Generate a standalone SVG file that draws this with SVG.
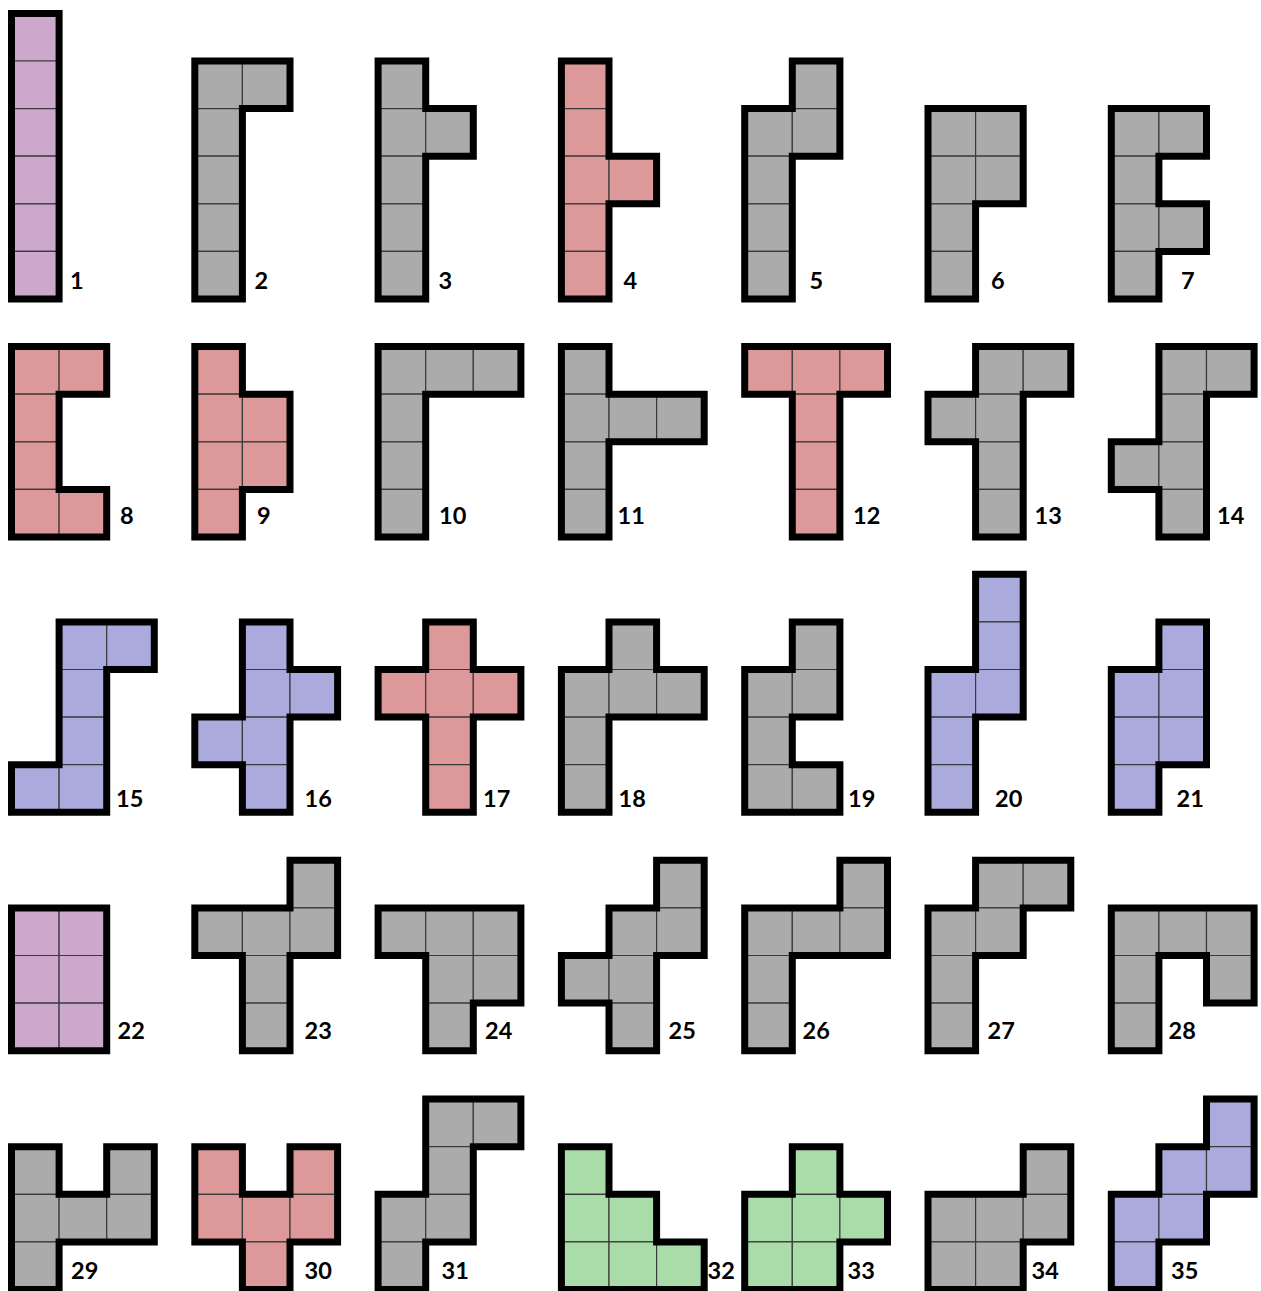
<svg xmlns="http://www.w3.org/2000/svg" xmlns:xlink="http://www.w3.org/1999/xlink" width="1261" height="1291" viewBox="0 0 1261 1291">
<style>
.p { stroke:#3a3a3a; stroke-width:1.2px; }
.o { fill:none; stroke:#000; stroke-width:7px; stroke-linejoin:miter; vector-effect:non-scaling-stroke; }
.gy { fill:#ABABAB; } .rd { fill:#DD9999; } .bl { fill:#AAAADD; } .pu { fill:#CCA8CC; } .gn { fill:#AADCAA; }
.lb { font-family:Lato, "Liberation Sans", sans-serif; font-weight:700; font-size:23.5px; fill:#000; }
</style>
<defs><rect id="u" width="1" height="1" vector-effect="non-scaling-stroke"/></defs>
<rect width="1261" height="1291" fill="#fff"/>
<g id="connectors"/>
<!-- Row 1 -->
<g id="piece-1"><g class="p pu" transform="translate(11.5,13.4) scale(47.6)"><use href="#u" x="0" y="0"/><use href="#u" x="0" y="1"/><use href="#u" x="0" y="2"/><use href="#u" x="0" y="3"/><use href="#u" x="0" y="4"/><use href="#u" x="0" y="5"/><path class="o" d="M0 0H1V6H0Z"/></g><text class="lb" x="70" y="289">1</text></g>
<g id="piece-2"><g class="p gy" transform="translate(194.8,61) scale(47.6)"><use href="#u" x="0" y="0"/><use href="#u" x="1" y="0"/><use href="#u" x="0" y="1"/><use href="#u" x="0" y="2"/><use href="#u" x="0" y="3"/><use href="#u" x="0" y="4"/><path class="o" d="M0 0H2V1H1V5H0Z"/></g><text class="lb" x="254.5" y="289">2</text></g>
<g id="piece-3"><g class="p gy" transform="translate(378.1,61) scale(47.6)"><use href="#u" x="0" y="0"/><use href="#u" x="0" y="1"/><use href="#u" x="1" y="1"/><use href="#u" x="0" y="2"/><use href="#u" x="0" y="3"/><use href="#u" x="0" y="4"/><path class="o" d="M0 0H1V1H2V2H1V5H0Z"/></g><text class="lb" x="438.5" y="289">3</text></g>
<g id="piece-4"><g class="p rd" transform="translate(561.4,61) scale(47.6)"><use href="#u" x="0" y="0"/><use href="#u" x="0" y="1"/><use href="#u" x="0" y="2"/><use href="#u" x="1" y="2"/><use href="#u" x="0" y="3"/><use href="#u" x="0" y="4"/><path class="o" d="M0 0H1V2H2V3H1V5H0Z"/></g><text class="lb" x="623.5" y="289">4</text></g>
<g id="piece-5"><g class="p gy" transform="translate(744.7,61) scale(47.6)"><use href="#u" x="1" y="0"/><use href="#u" x="0" y="1"/><use href="#u" x="1" y="1"/><use href="#u" x="0" y="2"/><use href="#u" x="0" y="3"/><use href="#u" x="0" y="4"/><path class="o" d="M1 0H2V2H1V5H0V1H1Z"/></g><text class="lb" x="809.5" y="289">5</text></g>
<g id="piece-6"><g class="p gy" transform="translate(928,108.6) scale(47.6)"><use href="#u" x="0" y="0"/><use href="#u" x="1" y="0"/><use href="#u" x="0" y="1"/><use href="#u" x="1" y="1"/><use href="#u" x="0" y="2"/><use href="#u" x="0" y="3"/><path class="o" d="M0 0H2V2H1V4H0Z"/></g><text class="lb" x="991" y="289">6</text></g>
<g id="piece-7"><g class="p gy" transform="translate(1111.3,108.6) scale(47.6)"><use href="#u" x="0" y="0"/><use href="#u" x="1" y="0"/><use href="#u" x="0" y="1"/><use href="#u" x="0" y="2"/><use href="#u" x="1" y="2"/><use href="#u" x="0" y="3"/><path class="o" d="M0 0H2V1H1V2H2V3H1V4H0Z"/></g><text class="lb" x="1181" y="289">7</text></g>
<!-- Row 2 -->
<g id="piece-8"><g class="p rd" transform="translate(11.5,346.6) scale(47.6)"><use href="#u" x="0" y="0"/><use href="#u" x="1" y="0"/><use href="#u" x="0" y="1"/><use href="#u" x="0" y="2"/><use href="#u" x="0" y="3"/><use href="#u" x="1" y="3"/><path class="o" d="M0 0H2V1H1V3H2V4H0Z"/></g><text class="lb" x="120" y="523.5">8</text></g>
<g id="piece-9"><g class="p rd" transform="translate(194.8,346.6) scale(47.6)"><use href="#u" x="0" y="0"/><use href="#u" x="0" y="1"/><use href="#u" x="1" y="1"/><use href="#u" x="0" y="2"/><use href="#u" x="1" y="2"/><use href="#u" x="0" y="3"/><path class="o" d="M0 0H1V1H2V3H1V4H0Z"/></g><text class="lb" x="257" y="523.5">9</text></g>
<g id="piece-10"><g class="p gy" transform="translate(378.1,346.6) scale(47.6)"><use href="#u" x="0" y="0"/><use href="#u" x="1" y="0"/><use href="#u" x="2" y="0"/><use href="#u" x="0" y="1"/><use href="#u" x="0" y="2"/><use href="#u" x="0" y="3"/><path class="o" d="M0 0H3V1H1V4H0Z"/></g><text class="lb" x="439" y="523.5">10</text></g>
<g id="piece-11"><g class="p gy" transform="translate(561.4,346.6) scale(47.6)"><use href="#u" x="0" y="0"/><use href="#u" x="0" y="1"/><use href="#u" x="1" y="1"/><use href="#u" x="2" y="1"/><use href="#u" x="0" y="2"/><use href="#u" x="0" y="3"/><path class="o" d="M0 0H1V1H3V2H1V4H0Z"/></g><text class="lb" x="617.5" y="523.5">11</text></g>
<g id="piece-12"><g class="p rd" transform="translate(744.7,346.6) scale(47.6)"><use href="#u" x="0" y="0"/><use href="#u" x="1" y="0"/><use href="#u" x="2" y="0"/><use href="#u" x="1" y="1"/><use href="#u" x="1" y="2"/><use href="#u" x="1" y="3"/><path class="o" d="M0 0H3V1H2V4H1V1H0Z"/></g><text class="lb" x="853" y="523.5">12</text></g>
<g id="piece-13"><g class="p gy" transform="translate(928,346.6) scale(47.6)"><use href="#u" x="1" y="0"/><use href="#u" x="2" y="0"/><use href="#u" x="0" y="1"/><use href="#u" x="1" y="1"/><use href="#u" x="1" y="2"/><use href="#u" x="1" y="3"/><path class="o" d="M1 0H3V1H2V4H1V2H0V1H1Z"/></g><text class="lb" x="1034.5" y="523.5">13</text></g>
<g id="piece-14"><g class="p gy" transform="translate(1111.3,346.6) scale(47.6)"><use href="#u" x="1" y="0"/><use href="#u" x="2" y="0"/><use href="#u" x="1" y="1"/><use href="#u" x="0" y="2"/><use href="#u" x="1" y="2"/><use href="#u" x="1" y="3"/><path class="o" d="M1 0H3V1H2V4H1V3H0V2H1Z"/></g><text class="lb" x="1217" y="523.5">14</text></g>
<!-- Row 3 -->
<g id="piece-15"><g class="p bl" transform="translate(11.5,621.9) scale(47.6)"><use href="#u" x="1" y="0"/><use href="#u" x="2" y="0"/><use href="#u" x="1" y="1"/><use href="#u" x="1" y="2"/><use href="#u" x="0" y="3"/><use href="#u" x="1" y="3"/><path class="o" d="M1 0H3V1H2V4H0V3H1Z"/></g><text class="lb" x="116" y="807">15</text></g>
<g id="piece-16"><g class="p bl" transform="translate(194.8,621.9) scale(47.6)"><use href="#u" x="1" y="0"/><use href="#u" x="1" y="1"/><use href="#u" x="2" y="1"/><use href="#u" x="0" y="2"/><use href="#u" x="1" y="2"/><use href="#u" x="1" y="3"/><path class="o" d="M1 0H2V1H3V2H2V4H1V3H0V2H1Z"/></g><text class="lb" x="304.5" y="807">16</text></g>
<g id="piece-17"><g class="p rd" transform="translate(378.1,621.9) scale(47.6)"><use href="#u" x="1" y="0"/><use href="#u" x="0" y="1"/><use href="#u" x="1" y="1"/><use href="#u" x="2" y="1"/><use href="#u" x="1" y="2"/><use href="#u" x="1" y="3"/><path class="o" d="M1 0H2V1H3V2H2V4H1V2H0V1H1Z"/></g><text class="lb" x="483" y="807">17</text></g>
<g id="piece-18"><g class="p gy" transform="translate(561.4,621.9) scale(47.6)"><use href="#u" x="1" y="0"/><use href="#u" x="0" y="1"/><use href="#u" x="1" y="1"/><use href="#u" x="2" y="1"/><use href="#u" x="0" y="2"/><use href="#u" x="0" y="3"/><path class="o" d="M1 0H2V1H3V2H1V4H0V1H1Z"/></g><text class="lb" x="618.5" y="807">18</text></g>
<g id="piece-19"><g class="p gy" transform="translate(744.7,621.9) scale(47.6)"><use href="#u" x="1" y="0"/><use href="#u" x="0" y="1"/><use href="#u" x="1" y="1"/><use href="#u" x="0" y="2"/><use href="#u" x="0" y="3"/><use href="#u" x="1" y="3"/><path class="o" d="M1 0H2V2H1V3H2V4H0V1H1Z"/></g><text class="lb" x="848" y="807">19</text></g>
<g id="piece-20"><g class="p bl" transform="translate(928,574.3) scale(47.6)"><use href="#u" x="1" y="0"/><use href="#u" x="1" y="1"/><use href="#u" x="0" y="2"/><use href="#u" x="1" y="2"/><use href="#u" x="0" y="3"/><use href="#u" x="0" y="4"/><path class="o" d="M1 0H2V3H1V5H0V2H1Z"/></g><text class="lb" x="995" y="807">20</text></g>
<g id="piece-21"><g class="p bl" transform="translate(1111.3,621.9) scale(47.6)"><use href="#u" x="1" y="0"/><use href="#u" x="0" y="1"/><use href="#u" x="1" y="1"/><use href="#u" x="0" y="2"/><use href="#u" x="1" y="2"/><use href="#u" x="0" y="3"/><path class="o" d="M1 0H2V3H1V4H0V1H1Z"/></g><text class="lb" x="1176.5" y="807">21</text></g>
<!-- Row 4 -->
<g id="piece-22"><g class="p pu" transform="translate(11.5,907.9) scale(47.6)"><use href="#u" x="0" y="0"/><use href="#u" x="1" y="0"/><use href="#u" x="0" y="1"/><use href="#u" x="1" y="1"/><use href="#u" x="0" y="2"/><use href="#u" x="1" y="2"/><path class="o" d="M0 0H2V3H0Z"/></g><text class="lb" x="117.5" y="1038.5">22</text></g>
<g id="piece-23"><g class="p gy" transform="translate(194.8,860.3) scale(47.6)"><use href="#u" x="2" y="0"/><use href="#u" x="0" y="1"/><use href="#u" x="1" y="1"/><use href="#u" x="2" y="1"/><use href="#u" x="1" y="2"/><use href="#u" x="1" y="3"/><path class="o" d="M2 0H3V2H2V4H1V2H0V1H2Z"/></g><text class="lb" x="304.5" y="1038.5">23</text></g>
<g id="piece-24"><g class="p gy" transform="translate(378.1,907.9) scale(47.6)"><use href="#u" x="0" y="0"/><use href="#u" x="1" y="0"/><use href="#u" x="2" y="0"/><use href="#u" x="1" y="1"/><use href="#u" x="2" y="1"/><use href="#u" x="1" y="2"/><path class="o" d="M0 0H3V2H2V3H1V1H0Z"/></g><text class="lb" x="485" y="1038.5">24</text></g>
<g id="piece-25"><g class="p gy" transform="translate(561.4,860.3) scale(47.6)"><use href="#u" x="2" y="0"/><use href="#u" x="1" y="1"/><use href="#u" x="2" y="1"/><use href="#u" x="0" y="2"/><use href="#u" x="1" y="2"/><use href="#u" x="1" y="3"/><path class="o" d="M2 0H3V2H2V4H1V3H0V2H1V1H2Z"/></g><text class="lb" x="668.5" y="1038.5">25</text></g>
<g id="piece-26"><g class="p gy" transform="translate(744.7,860.3) scale(47.6)"><use href="#u" x="2" y="0"/><use href="#u" x="0" y="1"/><use href="#u" x="1" y="1"/><use href="#u" x="2" y="1"/><use href="#u" x="0" y="2"/><use href="#u" x="0" y="3"/><path class="o" d="M2 0H3V2H1V4H0V1H2Z"/></g><text class="lb" x="802.5" y="1038.5">26</text></g>
<g id="piece-27"><g class="p gy" transform="translate(928,860.3) scale(47.6)"><use href="#u" x="1" y="0"/><use href="#u" x="2" y="0"/><use href="#u" x="0" y="1"/><use href="#u" x="1" y="1"/><use href="#u" x="0" y="2"/><use href="#u" x="0" y="3"/><path class="o" d="M1 0H3V1H2V2H1V4H0V1H1Z"/></g><text class="lb" x="987.5" y="1038.5">27</text></g>
<g id="piece-28"><g class="p gy" transform="translate(1111.3,907.9) scale(47.6)"><use href="#u" x="0" y="0"/><use href="#u" x="1" y="0"/><use href="#u" x="2" y="0"/><use href="#u" x="0" y="1"/><use href="#u" x="2" y="1"/><use href="#u" x="0" y="2"/><path class="o" d="M0 0H3V2H2V1H1V3H0Z"/></g><text class="lb" x="1168.5" y="1038.5">28</text></g>
<!-- Row 5 -->
<g id="piece-29"><g class="p gy" transform="translate(11.5,1146.7) scale(47.6)"><use href="#u" x="0" y="0"/><use href="#u" x="2" y="0"/><use href="#u" x="0" y="1"/><use href="#u" x="1" y="1"/><use href="#u" x="2" y="1"/><use href="#u" x="0" y="2"/><path class="o" d="M0 0H1V1H2V0H3V2H1V3H0Z"/></g><text class="lb" x="71" y="1278.5">29</text></g>
<g id="piece-30"><g class="p rd" transform="translate(194.8,1146.7) scale(47.6)"><use href="#u" x="0" y="0"/><use href="#u" x="2" y="0"/><use href="#u" x="0" y="1"/><use href="#u" x="1" y="1"/><use href="#u" x="2" y="1"/><use href="#u" x="1" y="2"/><path class="o" d="M0 0H1V1H2V0H3V2H2V3H1V2H0Z"/></g><text class="lb" x="304.5" y="1278.5">30</text></g>
<g id="piece-31"><g class="p gy" transform="translate(378.1,1099.1) scale(47.6)"><use href="#u" x="1" y="0"/><use href="#u" x="2" y="0"/><use href="#u" x="1" y="1"/><use href="#u" x="0" y="2"/><use href="#u" x="1" y="2"/><use href="#u" x="0" y="3"/><path class="o" d="M1 0H3V1H2V3H1V4H0V2H1Z"/></g><text class="lb" x="441.5" y="1278.5">31</text></g>
<g id="piece-32"><g class="p gn" transform="translate(561.4,1146.7) scale(47.6)"><use href="#u" x="0" y="0"/><use href="#u" x="0" y="1"/><use href="#u" x="1" y="1"/><use href="#u" x="0" y="2"/><use href="#u" x="1" y="2"/><use href="#u" x="2" y="2"/><path class="o" d="M0 0H1V1H2V2H3V3H0Z"/></g><text class="lb" x="707.5" y="1278.5">32</text></g>
<g id="piece-33"><g class="p gn" transform="translate(744.7,1146.7) scale(47.6)"><use href="#u" x="1" y="0"/><use href="#u" x="0" y="1"/><use href="#u" x="1" y="1"/><use href="#u" x="2" y="1"/><use href="#u" x="0" y="2"/><use href="#u" x="1" y="2"/><path class="o" d="M1 0H2V1H3V2H2V3H0V1H1Z"/></g><text class="lb" x="847.5" y="1278.5">33</text></g>
<g id="piece-34"><g class="p gy" transform="translate(928,1146.7) scale(47.6)"><use href="#u" x="2" y="0"/><use href="#u" x="0" y="1"/><use href="#u" x="1" y="1"/><use href="#u" x="2" y="1"/><use href="#u" x="0" y="2"/><use href="#u" x="1" y="2"/><path class="o" d="M2 0H3V2H2V3H0V1H2Z"/></g><text class="lb" x="1031.5" y="1278.5">34</text></g>
<g id="piece-35"><g class="p bl" transform="translate(1111.3,1099.1) scale(47.6)"><use href="#u" x="2" y="0"/><use href="#u" x="1" y="1"/><use href="#u" x="2" y="1"/><use href="#u" x="0" y="2"/><use href="#u" x="1" y="2"/><use href="#u" x="0" y="3"/><path class="o" d="M2 0H3V2H2V3H1V4H0V2H1V1H2Z"/></g><text class="lb" x="1171" y="1278.5">35</text></g>
</svg>
